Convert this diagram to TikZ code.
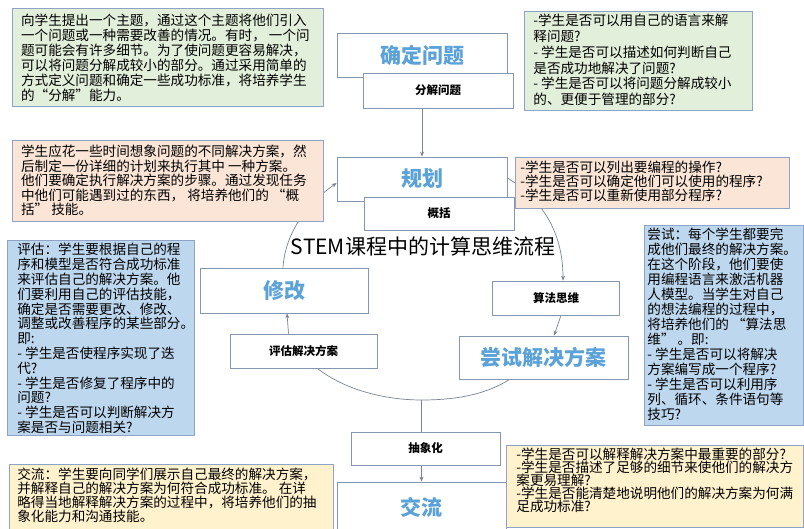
\documentclass[tikz,border=0pt]{standalone}
\usepackage{fontspec}
\setmainfont{Noto Sans CJK SC}
\usetikzlibrary{arrows.meta,calc,backgrounds}
\definecolor{boxline}{RGB}{143,163,200}
\definecolor{greenfill}{RGB}{226,239,218}
\definecolor{orangefill}{RGB}{251,229,214}
\definecolor{bluefill}{RGB}{189,215,238}
\definecolor{yellowfill}{RGB}{255,242,204}
\definecolor{nodeline}{RGB}{132,150,176}
\definecolor{labelblue}{RGB}{90,162,215}
\definecolor{connline}{RGB}{120,132,150}
\newcommand\infotext[6]{\begin{minipage}[t][#2][t]{#1}\raggedright\leftskip=#3\relax\vspace*{#4}\fontsize{13.6pt}{#5}\selectfont #6\end{minipage}}
\begin{document}
\begin{tikzpicture}[x=1pt,y=-1pt,
  infobox/.style={draw=boxline,line width=0.8pt,inner sep=0pt,anchor=north west},
  flowbox/.style={draw=nodeline,fill=white,line width=0.8pt,inner sep=0pt},
  biglabel/.style={font=\fontsize{21pt}{21pt}\selectfont\bfseries,text=labelblue},
  smalllabel/.style={font=\fontsize{11.5pt}{11.5pt}\selectfont\bfseries},
  conn/.style={draw=connline,line width=0.7pt},
  arr/.style={conn,-{Stealth[length=5pt,width=4pt]}}]
\useasboundingbox (0,0) rectangle (804,529);

% flow nodes
\node[flowbox,minimum width=170pt,minimum height=44pt,biglabel] (ident) at (422,55) {确定问题};
\node[flowbox,minimum width=150pt,minimum height=35pt,smalllabel] (decomp) at (438,90.5) {分解问题};
\node[flowbox,minimum width=170pt,minimum height=44pt,biglabel] (plan) at (422,179) {规划};
\node[flowbox,minimum width=150pt,minimum height=33pt,smalllabel] (gen) at (439,213.5) {概括};
\node[font=\fontsize{21pt}{21pt}\selectfont] (title) at (423,246) {STEM课程中的计算思维流程};
\node[flowbox,minimum width=168pt,minimum height=45pt,biglabel] (modify) at (284,290.5) {修改};
\node[flowbox,minimum width=147pt,minimum height=34pt,smalllabel] (eval) at (303.5,351) {评估解决方案};
\node[flowbox,minimum width=127pt,minimum height=34pt,smalllabel] (algo) at (556,298) {算法思维};
\node[flowbox,minimum width=169pt,minimum height=43pt,biglabel] (try) at (543.5,357.5) {尝试解决方案};
\node[flowbox,minimum width=149pt,minimum height=33pt,smalllabel] (abst) at (425.5,448.5) {抽象化};
\node[flowbox,minimum width=169pt,minimum height=50pt,biglabel] (comm) at (421.5,507) {交流};

% info boxes
\node[infobox,fill=greenfill] (tl) at (12,8) {\infotext{311pt}{98pt}{8.7pt}{6pt}{15pt}{%
向学生提出一个主题，通过这个主题将他们引入\\
一个问题或一种需要改善的情况。有时， 一个问\\
题可能会有许多细节。为了使问题更容易解决，\\
可以将问题分解成较小的部分。通过采用简单的\\
方式定义问题和确定一些成功标准，将培养学生\\
的“分解”能力。}};

\node[infobox,fill=greenfill] (tr) at (524,11) {\infotext{228pt}{99pt}{9pt}{3pt}{15.7pt}{%
-学生是否可以用自己的语言来解\\
释问题?\\
- 学生是否可以描述如何判断自己\\
是否成功地解决了问题?\\
- 学生是否可以将问题分解成较小\\
的、更便于管理的部分?}};

\node[infobox,fill=orangefill] (lo) at (12,140) {\infotext{311pt}{81pt}{8.7pt}{4.5pt}{14.6pt}{%
学生应花一些时间想象问题的不同解决方案，然\\
后制定一份详细的计划来执行其中 一种方案。\\
他们要确定执行解决方案的步骤。通过发现任务\\
中他们可能遇到过的东西， 将培养他们的 “概\\
括” 技能。}};

\node[infobox,fill=orangefill] (ro) at (515,157) {\infotext{274pt}{51pt}{5pt}{4pt}{13.8pt}{%
-学生是否可以列出要编程的操作?\\
-学生是否可以确定他们可以使用的程序?\\
-学生是否可以重新使用部分程序?}};

\node[infobox,fill=bluefill] (lb) at (7,240) {\infotext{187pt}{195pt}{10pt}{3pt}{14.8pt}{%
评估：学生要根据自己的程\\
序和模型是否符合成功标准\\
来评估自己的解决方案。他\\
们要利用自己的评估技能，\\
确定是否需要更改、修改、\\
调整或改善程序的某些部分。\\
即:\\
- 学生是否使程序实现了迭\\
代?\\
- 学生是否修复了程序中的\\
问题?\\
- 学生是否可以判断解决方\\
案是否与问题相关?}};

\node[infobox,fill=bluefill] (rb) at (644,225) {\infotext{159pt}{200pt}{3pt}{3pt}{15pt}{%
尝试：每个学生都要完\\
成他们最终的解决方案。\\
在这个阶段，他们要使\\
用编程语言来激活机器\\
人模型。当学生对自己\\
的想法编程的过程中，\\
将培养他们的 “算法思\\
维” 。即:\\
- 学生是否可以将解决\\
方案编写成一个程序?\\
- 学生是否可以利用序\\
列、循环、条件语句等\\
技巧?}};

\node[infobox,fill=yellowfill] (ly) at (9,464) {\infotext{324pt}{80pt}{8pt}{4pt}{12.5pt}{%
交流：学生要向同学们展示自己最终的解决方案，\\
并解释自己的解决方案为何符合成功标准。 在详\\
略得当地解释解决方案的过程中，将培养他们的抽\\
象化能力和沟通技能。}};

\node[infobox,fill=yellowfill] (ry) at (506,445) {\infotext{297pt}{82pt}{10pt}{3pt}{12.9pt}{%
-学生是否可以解释解决方案中最重要的部分?\\
-学生是否描述了足够的细节来使他们的解决方\\
案更易理解?\\
-学生是否能清楚地说明他们的解决方案为何满\\
足成功标准?}};

% connectors
\begin{scope}[on background layer]
\fill[white] (0,0) rectangle (804,529);
\coordinate (cb) at (421.5,400);
\draw[arr] (decomp.south -| plan.north) -- (plan.north);
\draw[arr] ($(modify.north)+(-1,0)$) .. controls (285,235) and (305,205) .. ($(plan.west)+(0,4)$);
\draw[arr] ($(plan.east)+(0,-1)$) .. controls (535,195) and (563,225) .. ($(algo.north)+(7,0)$);
\draw[arr] ($(algo.south)+(5,0)$) -- ($(try.north)+(10.5,0)$);
\draw[conn] ($(try.south west)+(51,0)$) .. controls (485,395) and (455,400) .. (cb) .. controls (385,400) and (345,390) .. ($(eval.south east)+(-60,0)$);
\draw[arr] ($(eval.north)+(-15,0)$) -- ($(modify.south)+(3,0)$);
\draw[conn] (cb) -- (cb |- abst.north);
\draw[arr] (abst.south -| comm.north) -- (comm.north);
\end{scope}
\end{tikzpicture}
\end{document}
